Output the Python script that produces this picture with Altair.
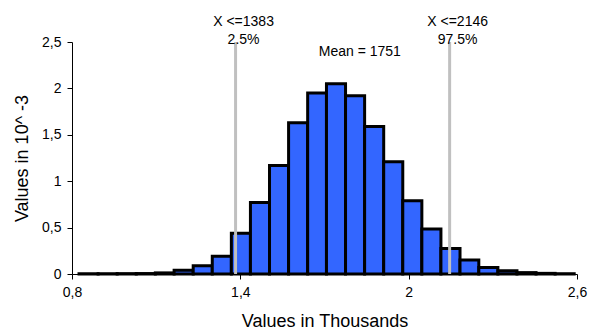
import altair as alt
import pandas as pd

# Histogram bins (values in thousands) and densities (values in 10^-3)
bin_start = [0.825, 0.893, 0.961, 1.029, 1.097, 1.164, 1.232, 1.300, 1.368, 1.436,
             1.504, 1.572, 1.640, 1.707, 1.775, 1.843, 1.911, 1.979, 2.047, 2.115,
             2.183, 2.250, 2.318, 2.386, 2.454, 2.522]
bin_end = [0.893, 0.961, 1.029, 1.097, 1.164, 1.232, 1.300, 1.368, 1.436, 1.504,
           1.572, 1.640, 1.707, 1.775, 1.843, 1.911, 1.979, 2.047, 2.115, 2.183,
           2.250, 2.318, 2.386, 2.454, 2.522, 2.590]
density = [0.003, 0.003, 0.004, 0.005, 0.012, 0.04, 0.09, 0.19, 0.44, 0.77,
           1.17, 1.63, 1.95, 2.05, 1.92, 1.59, 1.21, 0.79, 0.485, 0.275,
           0.15, 0.07, 0.035, 0.015, 0.007, 0.003]

# Percentile markers
pct_x = [1.383, 2.146]
pct_top = ["X <=1383", "X <=2146"]
pct_bottom = ["2.5%", "97.5%"]
mean_x = [1.751]
mean_label = ["Mean = 1751"]

x_ticks = [0.8, 1.4, 2.0, 2.6]
y_ticks = [0, 0.5, 1, 1.5, 2, 2.5]

FONT = "Liberation Sans"

bars_df = pd.DataFrame({"start": bin_start, "end": bin_end, "density": density})
pct_df = pd.DataFrame({"x": pct_x, "top": pct_top, "bottom": pct_bottom})
mean_df = pd.DataFrame({"x": mean_x, "label": mean_label})

xscale = alt.Scale(domain=[0.8, 2.6], nice=False, zero=False, padding=0)
yscale = alt.Scale(domain=[0, 2.5], nice=False, padding=0)

xaxis = alt.Axis(values=x_ticks, title="Values in Thousands", grid=False,
                 labelExpr="replace(toString(datum.value), '.', ',')",
                 labelFontSize=14, titleFontSize=18, titleFontWeight="normal",
                 labelPadding=6, titlePadding=13, tickSize=5, labelFlush=False,
                 domainColor="black", tickColor="black", labelColor="black",
                 titleColor="black", labelFont=FONT, titleFont=FONT)
yaxis = alt.Axis(values=y_ticks, title="Values in 10^ -3", grid=False,
                 labelExpr="replace(toString(datum.value), '.', ',')",
                 labelFontSize=14, titleFontSize=18, titleFontWeight="normal",
                 labelPadding=6, titlePadding=10, tickSize=5, labelFlush=False,
                 domainColor="black", tickColor="black", labelColor="black",
                 titleColor="black", labelFont=FONT, titleFont=FONT)

bars = alt.Chart(bars_df).mark_rect(
    fill="#3366FF", stroke="black", strokeWidth=3, strokeJoin="miter"
).encode(
    x=alt.X("start:Q", scale=xscale, axis=xaxis),
    x2="end:Q",
    y=alt.Y("density:Q", scale=yscale, axis=yaxis),
    y2=alt.Y2(datum=0),
)

rules = alt.Chart(pct_df).mark_rule(color="#C0C0C0", strokeWidth=3).encode(
    x=alt.X("x:Q", scale=xscale),
    y=alt.value(0),
    y2=alt.value(232),
)

top_text = alt.Chart(pct_df).mark_text(
    font=FONT, fontSize=14, color="black", dx=8, baseline="middle", clip=False
).encode(x=alt.X("x:Q", scale=xscale), y=alt.value(-20), text="top:N")

bottom_text = alt.Chart(pct_df).mark_text(
    font=FONT, fontSize=14, color="black", dx=8, baseline="middle", clip=False
).encode(x=alt.X("x:Q", scale=xscale), y=alt.value(-2), text="bottom:N")

mean_text = alt.Chart(mean_df).mark_text(
    font=FONT, fontSize=14, color="black", dx=21, baseline="middle"
).encode(x=alt.X("x:Q", scale=xscale), y=alt.value(10), text="label:N")

chart = alt.layer(bars, rules, top_text, bottom_text, mean_text).properties(
    width=505, height=232,
    autosize=alt.AutoSizeParams(type="none"),
    padding={"left": 72, "top": 42, "right": 12, "bottom": 57},
    background="white",
).configure_view(stroke=None)

chart.save("out.html", embed_options={"renderer": "svg", "actions": False})
